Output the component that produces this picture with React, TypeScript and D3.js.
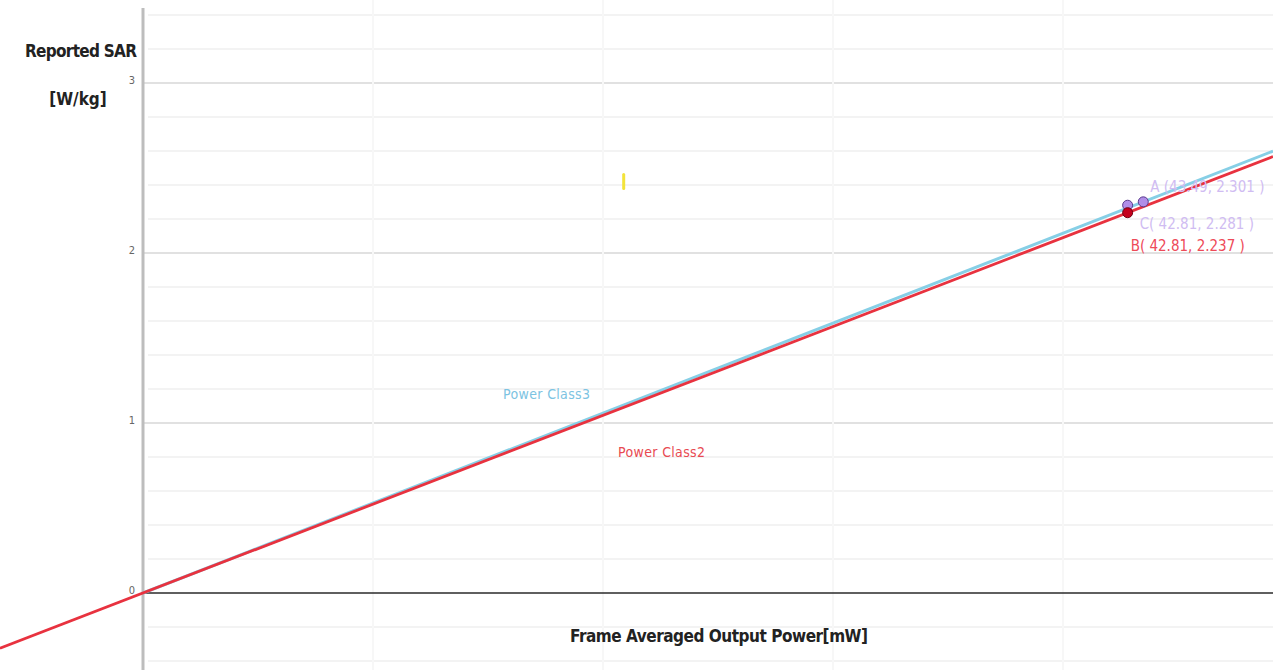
import React from 'react';
import * as d3 from 'd3';

// reported points
const pointNames = ['A', 'C', 'B'];
const pointX = [43.49, 42.81, 42.81];
const pointY = [2.301, 2.281, 2.237];

// y axis ticks and grid
const yTicks = [0, 1, 2, 3];
const yGrid = d3.range(-0.4, 3.41, 0.2);
const xGrid = [10, 20, 30, 40];

// small yellow mark left on the canvas
const yellowMark = [{x: 20.9, y: 2.42}];

const W = 1273;
const H = 670;

export default function App() {
    const x = d3.scaleLinear().domain([0, 10]).range([143, 373]);
    const y = d3.scaleLinear().domain([0, 1]).range([593, 423]);

    const xMin = x.invert(0);
    const xMax = x.invert(W);

    // Power Class3 through A, Power Class2 through B
    const slope3 = pointY[0] / pointX[0];
    const slope2 = pointY[2] / pointX[2];

    const line = d3.line<[number, number]>()
        .x(d => x(d[0]))
        .y(d => y(d[1]));

    const class3 = line([[0, 0], [xMax, slope3 * xMax]]) || '';
    const class2 = line([[xMin, slope2 * xMin], [xMax, slope2 * xMax]]) || '';

    const narrow = '"Liberation Sans Narrow", "DejaVu Sans Condensed", "Noto Sans", sans-serif';

    const labelColor = ['#d0bcf2', '#d0bcf2', '#ee4a58'];
    const labelDx = [7, 12, 3];
    const labelDy = [-10, 24, 38];

    return (
        <svg width={W} height={H} style={{position: 'absolute', left: 0, top: 0, background: '#fff'}}>
            {/* grid */}
            {yGrid.map((v, i) => {
                const major = Math.abs(v - Math.round(v)) < 1e-6;
                if (Math.abs(v) < 1e-6) return null;
                return (
                    <line key={'gy' + i}
                          x1={major ? x(0) : x(0) + 5} x2={W}
                          y1={y(v)} y2={y(v)}
                          stroke={major ? '#c4c4c4' : '#efefef'}
                          strokeWidth={major ? 1.2 : 1.5}/>
                );
            })}
            {xGrid.map(v => (
                <line key={'gx' + v} x1={x(v)} x2={x(v)} y1={0} y2={H}
                      stroke="#f7f7f7" strokeWidth={2}/>
            ))}

            {/* axes */}
            <line x1={x(0)} x2={W} y1={y(0)} y2={y(0)} stroke="#2a2a2a" strokeWidth={1.4}/>
            <line x1={x(0)} x2={x(0)} y1={8} y2={H} stroke="#bdbdbd" strokeWidth={3}/>

            {yTicks.map(t => (
                <text key={'t' + t} x={x(0) - 8} y={y(t) + 1} textAnchor="end"
                      fontSize={11} fill="#666" fontFamily={narrow}>{t}</text>
            ))}

            {/* axis titles */}
            <text x={137} y={57} textAnchor="end" fontSize={17} fontWeight="bold"
                  fill="#222" fontFamily={narrow} textLength={112}>Reported SAR</text>
            <text x={78} y={105} textAnchor="middle" fontSize={17} fontWeight="bold"
                  fill="#222" fontFamily={narrow}>[W/kg]</text>
            <text x={719} y={642} textAnchor="middle" fontSize={17} fontWeight="bold"
                  fill="#222" fontFamily={narrow} textLength={298}>Frame Averaged Output Power[mW]</text>

            {/* lines */}
            <path d={class3} stroke="#86cfe6" strokeWidth={3} fill="none"/>
            <path d={class2} stroke="#e8323f" strokeWidth={2.8} fill="none"/>

            <text x={503} y={399} fontSize={14} fill="#7cc3e2" fontFamily={narrow}
                  textLength={87}>Power Class3</text>
            <text x={618} y={457} fontSize={14} fill="#e84a52" fontFamily={narrow}
                  textLength={87}>Power Class2</text>

            {yellowMark.map((m, i) => (
                <line key={'ym' + i} x1={x(m.x)} x2={x(m.x)} y1={y(m.y) - 7} y2={y(m.y) + 7}
                      stroke="#f3e33a" strokeWidth={3} strokeLinecap="round"/>
            ))}

            {/* points */}
            {pointNames.map((n, i) => (
                <circle key={'p' + n} cx={x(pointX[i])} cy={y(pointY[i])} r={5}
                        fill={n === 'B' ? '#c4001c' : '#b08ee8'}
                        stroke={n === 'B' ? '#700010' : '#5a3b8c'} strokeWidth={1}/>
            ))}
            {pointNames.map((n, i) => (
                <text key={'l' + n} x={x(pointX[i]) + labelDx[i]} y={y(pointY[i]) + labelDy[i]}
                      fontSize={15} fill={labelColor[i]} fontFamily={narrow}>
                    {n === 'A' ? 'A (' : n + '( '}{pointX[i].toFixed(2)}, {pointY[i].toFixed(3)} )
                </text>
            ))}
        </svg>
    );
}
